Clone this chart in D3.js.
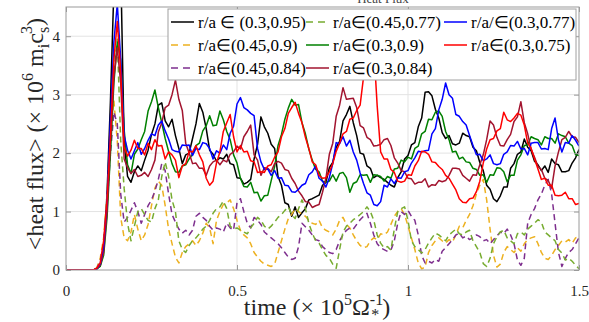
<!DOCTYPE html>
<html>
<head>
<meta charset="utf-8">
<script src="https://cdn.jsdelivr.net/npm/d3@7"></script>
<style>
  html, body { margin: 0; padding: 0; background: #fff; }
  svg { display: block; font-family: "Liberation Serif", "Times New Roman", serif; }
</style>
</head>
<body>
<div id="chart"></div>
<script>
// sampling step of the traces (time in units of 1e5 / Omega_*)
var dt = 0.01;

var xTicks = [0, 0.5, 1, 1.5];
var yTicks = [0, 1, 2, 3, 4];

var black = [0,0,0,0,0,0,0,0,0,
  0.02,0.08,0.35,1.3,2.9,4.8,6.0,5.2,2.2,1.6,
  1.5,1.68,1.78,1.7,1.88,2.05,2.32,2.5,2.82,2.86,
  2.55,2.45,2.58,2.3,2.08,1.82,1.97,2.0,2.25,2.5,
  2.85,2.7,2.42,2.05,1.98,1.86,1.92,1.9,1.98,1.82,
  1.8,1.58,1.57,1.47,1.5,1.55,1.9,2.15,2.62,2.45,
  2.34,2.15,2.08,1.6,1.45,1.15,1.12,0.92,1.08,0.9,
  0.98,1.05,1.2,1.22,1.25,1.28,1.45,1.5,1.75,1.84,
  2.1,2.2,2.55,2.66,2.8,2.52,2.3,2.0,1.98,1.78,
  1.74,1.58,1.62,1.58,1.55,1.5,1.45,1.42,1.58,1.68,
  1.9,1.96,2.14,2.18,2.45,2.6,3.04,3.05,2.98,2.75,
  2.6,2.35,2.25,2.3,2.16,2.14,2.17,2.34,2.3,2.28,
  2.1,2.04,1.84,1.7,1.45,1.38,1.22,1.17,1.27,1.42,
  1.42,1.74,1.82,1.98,2.02,2.24,2.1,2.04,1.86,1.8,
  1.7,1.78,1.67,1.9,1.82,1.8,1.68,1.68,1.7,1.83,
  1.92,2.06];

var yellow = [0,0,0,0,0,0,0,0,0,
  0.04,0.2,0.55,1.3,2.3,2.9,2.2,0.9,0.55,0.5,
  0.65,0.95,0.7,0.5,0.6,0.78,1.1,1.4,1.52,1.45,
  1.1,0.7,0.45,0.22,0.12,0.3,0.4,0.45,0.5,0.42,
  0.5,0.63,0.8,0.72,0.45,0.85,1.0,1.12,1.15,1.2,
  1.05,0.85,0.68,0.6,0.55,0.45,0.3,0.22,0.15,0.1,
  0.08,0.06,0.1,0.3,0.5,0.7,0.88,0.95,1.05,1.0,
  0.95,0.92,0.85,0.8,0.78,0.85,0.72,0.68,0.65,0.6,
  0.7,0.85,0.9,0.78,0.72,0.6,0.5,0.42,0.38,0.4,
  0.5,0.55,0.52,0.62,0.6,0.65,0.78,0.92,1.0,1.05,
  0.95,0.75,0.55,0.35,0.12,0.02,0.05,0.3,0.42,0.5,
  0.55,0.5,0.46,0.52,0.48,0.6,0.75,0.72,0.85,0.95,
  1.1,1.3,1.45,1.55,1.2,0.7,0.25,0.05,0.1,0.3,
  0.4,0.35,0.3,0.38,0.32,0.45,0.52,0.55,0.57,0.45,
  0.3,0.2,0.18,0.25,0.35,0.42,0.5,0.48,0.52,0.46,
  0.55,0.57];

var purple = [0,0,0,0,0,0,0,0,0,
  0.03,0.15,0.45,1.1,2.0,2.7,2.5,1.3,0.82,0.9,
  1.02,1.15,1.0,0.8,0.95,1.1,1.2,1.35,1.55,1.82,
  1.7,1.3,0.95,0.82,0.7,0.63,0.68,0.6,0.68,0.92,
  0.97,0.9,0.85,0.75,0.68,0.72,0.7,0.65,0.8,0.72,
  0.68,1.15,1.22,1.0,0.8,0.72,0.9,0.85,0.78,0.65,
  0.6,0.55,0.5,0.45,0.38,0.3,0.22,0.18,0.2,0.4,
  0.8,0.74,0.68,0.6,0.52,0.5,0.4,0.35,0.3,0.28,
  0.35,0.5,0.6,0.68,0.72,0.7,0.78,0.86,0.92,0.97,
  0.8,0.6,0.45,0.38,0.35,0.32,0.34,0.5,0.8,1.0,
  0.95,1.02,0.92,0.85,0.6,0.25,0.12,0.15,0.12,0.18,
  0.15,0.32,0.38,0.45,0.52,0.6,0.63,0.55,0.58,0.52,
  0.55,0.6,0.57,0.5,0.52,0.45,0.52,0.58,0.65,0.62,
  0.7,0.6,0.45,0.17,0.08,0.2,0.8,0.95,1.05,1.2,
  1.3,1.45,1.55,1.3,0.8,0.3,0.06,0.2,0.3,0.35,
  0.45,0.55];

var lime = [0,0,0,0,0,0,0,0,0,
  0.02,0.1,0.4,1.1,2.3,3.4,3.95,2.2,1.4,0.8,
  0.5,0.75,1.0,1.05,0.95,0.85,0.82,1.05,1.2,1.6,
  1.85,1.6,1.2,1.0,0.5,0.35,0.3,0.42,0.5,0.55,
  0.62,0.7,0.75,0.85,0.97,1.05,1.08,1.18,1.05,0.75,
  0.7,0.72,0.68,0.65,0.62,0.72,0.8,0.9,0.85,0.75,
  0.7,0.75,0.82,0.9,0.95,1.02,1.08,0.95,0.88,1.05,
  1.2,1.05,0.8,0.63,0.5,0.46,0.35,0.25,0.2,0.1,
  0.03,0.35,0.65,0.75,0.8,0.86,0.9,0.95,1.0,1.08,
  1.0,0.85,0.6,0.46,0.38,0.4,0.34,0.7,1.0,1.05,
  1.08,0.85,0.5,0.4,0.35,0.29,0.35,0.46,0.55,0.63,
  0.6,0.55,0.5,0.6,0.65,0.7,0.62,0.6,0.65,0.68,
  0.5,0.4,0.3,0.11,0.06,0.2,0.45,0.57,0.65,0.68,
  0.55,0.5,0.45,0.62,0.65,0.6,0.7,0.75,0.8,0.86,
  0.82,0.65,0.6,0.55,0.5,0.35,0.29,0.17,0.2,0.15,
  0.08,0.02];

var green = [0,0,0,0,0,0,0,0,0,
  0.02,0.06,0.25,0.9,2.0,3.2,3.9,3.6,2.4,1.8,
  1.65,1.98,2.07,2.23,2.37,2.72,2.88,3.08,2.78,2.52,
  2.25,2.03,1.82,1.68,1.67,1.78,1.8,1.9,1.98,2.13,
  2.17,2.38,2.47,2.64,2.47,2.48,2.72,2.57,2.37,2.23,
  1.97,1.83,1.57,1.43,1.42,1.5,1.32,1.33,1.18,1.27,
  1.28,1.53,1.77,2.13,2.32,2.58,2.77,2.92,2.82,2.83,
  2.52,2.33,2.07,1.88,1.72,1.68,1.52,1.5,1.52,1.63,
  1.52,1.65,1.67,1.58,1.33,1.48,1.51,1.63,1.62,1.63,
  1.5,1.63,1.62,1.6,1.52,1.6,1.57,1.73,1.74,1.88,
  1.85,1.93,1.9,2.08,2.12,2.33,2.37,2.58,2.57,2.7,
  2.72,2.63,2.37,2.23,2.02,2.03,1.9,1.93,1.85,1.84,
  1.74,1.72,1.62,1.63,1.5,1.63,1.62,1.75,1.74,1.68,
  1.51,1.62,1.62,1.88,1.97,2.13,2.14,2.28,2.25,2.23,
  2.14,2.28,2.25,2.25,2.17,2.33,2.3,2.28,2.17,2.13,
  1.97,1.96];

var maroon = [0,0,0,0,0,0,0,0,0,
  0.02,0.08,0.3,1.0,2.2,3.3,3.8,3.2,1.9,1.75,
  1.65,1.72,1.6,1.62,1.67,1.6,1.72,1.88,2.36,2.52,
  2.78,2.82,3.0,3.25,2.92,2.73,2.17,2.0,1.82,1.83,
  1.74,1.74,1.62,1.78,1.85,1.88,1.8,1.88,1.85,1.98,
  2.02,2.12,2.07,2.28,2.37,2.48,1.97,1.88,1.62,1.75,
  1.74,1.68,1.82,1.86,1.83,1.72,1.7,1.57,1.48,1.35,
  1.27,1.17,1.16,1.07,1.1,1.12,1.33,1.57,1.98,2.17,
  2.63,2.82,3.12,2.92,2.93,2.94,2.78,2.47,2.43,2.27,
  2.23,2.12,2.13,2.15,2.23,2.25,2.13,1.92,1.83,1.7,
  1.68,1.57,1.56,1.47,1.5,1.5,1.56,1.42,1.46,1.45,
  1.53,1.51,1.53,1.62,1.74,1.74,1.73,1.62,1.57,1.52,
  1.63,1.62,1.8,1.97,2.23,2.55,2.48,2.27,2.13,2.12,
  2.23,2.32,2.54,2.62,2.88,2.52,2.33,2.07,1.93,1.77,
  1.72,1.57,1.53,1.4,1.78,2.02,2.23,2.27,2.37,2.28,
  2.27,2.18];

var blue = [0,0,0,0,0,0,0,0,0,
  0.02,0.1,0.4,1.2,2.6,3.9,4.55,3.6,2.3,2.05,
  1.9,2.04,2.18,1.98,2.08,2.22,2.33,2.3,2.48,2.55,
  2.38,2.24,2.06,2.03,2.02,2.14,2.13,2.14,1.96,2.08,
  2.06,2.18,2.16,2.08,1.9,2.04,2.0,2.14,2.06,2.34,
  2.46,2.84,2.95,2.78,2.74,2.68,2.64,2.08,1.85,1.72,
  1.73,1.62,1.7,1.57,1.58,1.45,1.44,1.34,1.33,1.38,
  1.45,1.48,1.63,1.68,1.78,1.57,1.52,1.42,1.58,1.82,
  2.18,2.16,2.28,2.12,2.22,2.02,1.88,1.66,1.48,1.32,
  1.28,1.12,1.1,1.17,1.45,1.42,1.56,1.48,1.58,1.57,
  1.68,1.7,1.83,1.92,2.03,2.02,2.04,2.05,2.33,2.42,
  2.74,2.92,3.2,3.0,2.94,2.66,2.63,2.54,2.48,2.3,
  2.13,1.97,1.98,1.87,1.9,1.97,1.82,1.8,1.82,1.98,
  2.02,2.13,2.12,2.2,2.07,2.08,1.97,2.17,2.18,2.18,
  2.07,2.08,2.06,2.42,2.6,2.22,2.02,2.18,2.17,2.3,
  2.22,2.12];

var red = [0,0,0,0,0,0,0,0,0,
  0.03,0.12,0.5,1.2,2.3,3.6,4.25,3.4,2.1,1.95,
  2.05,2.22,2.08,2.08,1.97,2.17,2.06,2.23,2.12,2.13,
  1.9,2.02,1.97,1.88,1.58,1.78,1.82,2.03,2.02,2.13,
  1.97,1.85,1.57,1.45,1.52,1.83,2.02,2.37,2.52,2.66,
  2.28,2.02,2.13,2.02,2.03,1.87,1.85,1.67,1.68,1.67,
  1.78,1.8,1.93,2.02,2.28,2.42,2.68,2.78,2.87,2.68,
  2.52,2.27,2.08,1.85,1.8,1.62,1.57,1.58,1.68,1.82,
  2.03,2.17,2.33,2.37,2.58,2.6,2.73,2.82,3.3,3.7,
  3.9,3.8,2.8,2.02,1.9,1.9,1.72,1.67,1.52,1.5,
  1.52,1.63,1.62,1.78,1.87,2.03,2.02,1.98,1.85,1.84,
  1.77,1.72,1.62,1.57,1.47,1.37,1.22,1.16,1.15,1.22,
  1.23,1.34,1.52,1.83,2.07,2.23,2.25,2.38,2.42,2.7,
  2.57,2.54,2.6,2.68,2.65,2.48,2.17,2.08,1.9,1.73,
  1.55,1.57,1.45,1.45,1.28,1.27,1.28,1.33,1.22,1.22,
  1.12,1.14];

// plotting order = legend order (column-major, 3 rows)
var series = [
  { label: "r/a \u2208 (0.3,0.95)", values: black,  color: "#000000", dash: null },
  { label: "r/a\u2208(0.45,0.9)",   values: yellow, color: "#EDB120", dash: "6,4" },
  { label: "r/a\u2208(0.45,0.84)",  values: purple, color: "#7E2F8E", dash: "6,4" },
  { label: "r/a\u2208(0.45,0.77)",  values: lime,   color: "#77AC30", dash: "6,4" },
  { label: "r/a\u2208(0.3,0.9)",    values: green,  color: "#008000", dash: null },
  { label: "r/a\u2208(0.3,0.84)",   values: maroon, color: "#A2142F", dash: null },
  { label: "r/a/\u2208(0.3,0.77)",  values: blue,   color: "#0000FF", dash: null },
  { label: "r/a\u2208(0.3,0.75)",   values: red,    color: "#FF0000", dash: null }
];

var W = 589, H = 322;
var margin = { top: 7, right: 10, bottom: 52, left: 66 };
var width = W - margin.left - margin.right,
    height = H - margin.top - margin.bottom;

var svg = d3.select('#chart').append('svg').attr('width', W).attr('height', H);
svg.append('rect').attr('width', W).attr('height', H).attr('fill', '#fff');

// title sits above the axes box, only its lower edge shows
svg.append('text').attr('x', 383).attr('y', 3).attr('text-anchor', 'middle')
  .attr('font-size', '13px').attr('fill', '#444').text('Heat Flux');

var g = svg.append('g').attr('transform', 'translate(' + margin.left + ',' + margin.top + ')');

var x = d3.scaleLinear().domain([0, 1.5]).range([0, width]);
var y = d3.scaleLinear().domain([0, 4.5]).range([height, 0]);

g.append('rect').attr('width', width).attr('height', height).attr('fill', '#fff');

// grid
g.append('g').selectAll('line').data(xTicks.slice(1, -1)).enter().append('line')
  .attr('x1', function (d) { return x(d); }).attr('x2', function (d) { return x(d); })
  .attr('y1', 0).attr('y2', height).attr('stroke', '#e3e3e3').attr('stroke-width', 1);
g.append('g').selectAll('line').data(yTicks.slice(1)).enter().append('line')
  .attr('y1', function (d) { return y(d); }).attr('y2', function (d) { return y(d); })
  .attr('x1', 0).attr('x2', width).attr('stroke', '#e3e3e3').attr('stroke-width', 1);

svg.append('clipPath').attr('id', 'plotclip').append('rect')
  .attr('width', width).attr('height', height);

var line = d3.line()
  .x(function (d, i) { return x(i * dt); })
  .y(function (d) { return y(d); });

g.append('g').attr('clip-path', 'url(#plotclip)').selectAll('path')
  .data(series).enter().append('path')
  .attr('d', function (s) { return line(s.values); })
  .attr('fill', 'none')
  .attr('stroke', function (s) { return s.color; })
  .attr('stroke-width', 1.5)
  .attr('stroke-linejoin', 'round')
  .attr('stroke-dasharray', function (s) { return s.dash; });

// box + axes
g.append('rect').attr('width', width).attr('height', height)
  .attr('fill', 'none').attr('stroke', '#9a9a9a').attr('stroke-width', 1);

g.append('g').attr('transform', 'translate(0,' + height + ')')
  .call(d3.axisBottom(x).tickValues(xTicks).tickFormat(d3.format('')).tickSize(-5).tickPadding(15));
g.append('g')
  .call(d3.axisLeft(y).tickValues(yTicks).tickFormat(d3.format('')).tickSize(-5).tickPadding(6));
g.append('g').attr('transform', 'translate(' + width + ',0)')
  .call(d3.axisRight(y).tickValues(yTicks).tickFormat('').tickSize(-5));
g.append('g')
  .call(d3.axisTop(x).tickValues(xTicks).tickFormat('').tickSize(-5));

g.selectAll('.domain').remove();
g.selectAll('.tick line').attr('stroke', '#9a9a9a');
g.selectAll('.tick text').attr('font-size', '15px').attr('fill', '#262626')
  .attr('font-family', '"Liberation Serif", "Times New Roman", serif');

// axis labels
var xl = svg.append('text').attr('x', 317).attr('y', 315).attr('text-anchor', 'middle')
  .attr('font-size', '24px').attr('fill', '#262626');
xl.append('tspan').text('time (\u00d7 10');
xl.append('tspan').attr('font-size', '16px').attr('dy', -10).text('5');
xl.append('tspan').attr('dy', 10).text('\u03a9');
xl.append('tspan').attr('font-size', '16px').attr('dy', -10).text('-1');
xl.append('tspan').attr('font-size', '16px').attr('dx', -12).attr('dy', 15).text('*');
xl.append('tspan').attr('dx', 3).attr('dy', -5).text(')');

var yl = svg.append('text').attr('transform', 'translate(43,134) rotate(-90)')
  .attr('text-anchor', 'middle').attr('font-size', '24px').attr('fill', '#262626');
yl.append('tspan').text('<heat flux> (\u00d7 10');
yl.append('tspan').attr('font-size', '16px').attr('dy', -10).text('6');
yl.append('tspan').attr('dy', 10).text(' m');
yl.append('tspan').attr('font-size', '16px').attr('dy', 6).text('i');
yl.append('tspan').attr('dy', -6).text('c');
yl.append('tspan').attr('font-size', '16px').attr('dy', 6).text('s');
yl.append('tspan').attr('font-size', '16px').attr('dx', -7).attr('dy', -17).text('3');
yl.append('tspan').attr('dy', 11).text(')');

// legend
var legend = svg.append('g');
legend.append('rect').attr('x', 168).attr('y', 9).attr('width', 408).attr('height', 71)
  .attr('fill', '#fff').attr('stroke', '#a0a0a0').attr('stroke-width', 1);

var colX = [171, 306, 444];
var rowY = [22, 45, 68];

var items = legend.selectAll('g.item').data(series).enter().append('g')
  .attr('transform', function (s, i) {
    return 'translate(' + colX[Math.floor(i / 3)] + ',' + rowY[i % 3] + ')';
  });
items.append('line').attr('x1', 0).attr('x2', 23).attr('y1', 0).attr('y2', 0)
  .attr('stroke', function (s) { return s.color; }).attr('stroke-width', 1.5)
  .attr('stroke-dasharray', function (s) { return s.dash ? '7,5' : null; });
items.append('text').attr('x', 27).attr('y', 6).attr('font-size', '17px').attr('fill', '#000')
  .text(function (s) { return s.label; });
</script>
</body>
</html>
